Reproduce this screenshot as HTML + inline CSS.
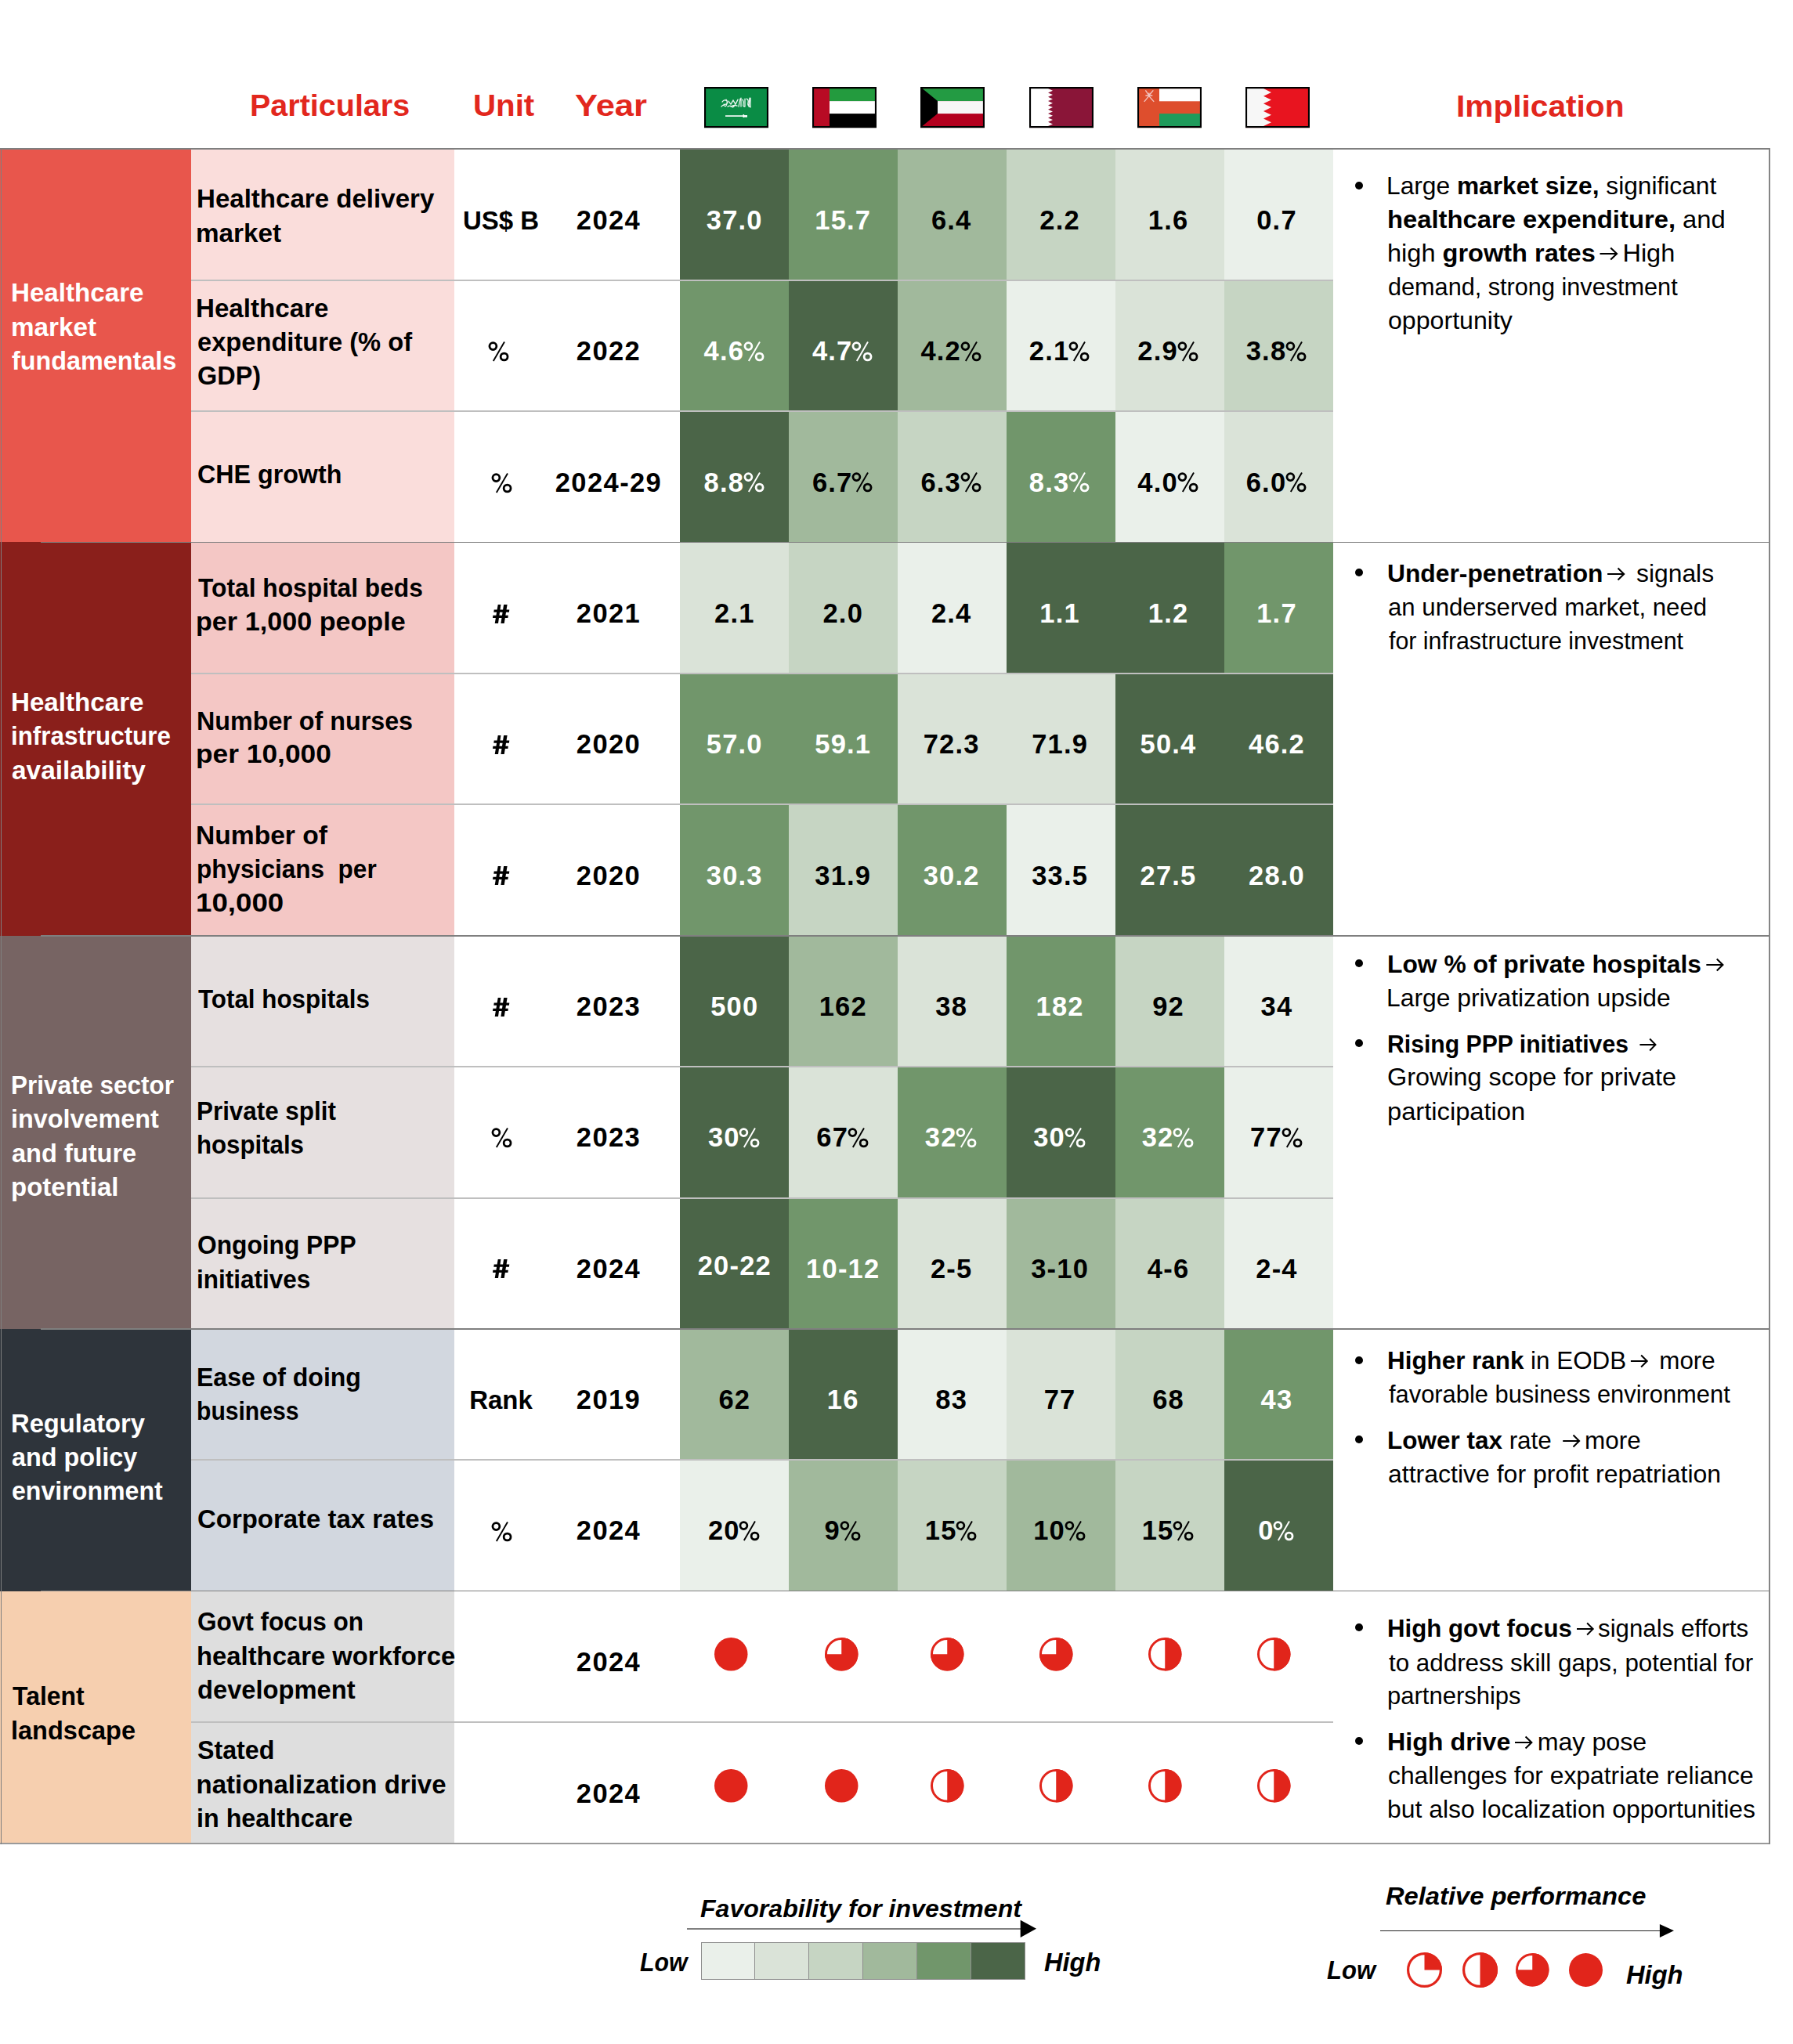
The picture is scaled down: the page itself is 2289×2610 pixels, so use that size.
<!DOCTYPE html>
<html><head><meta charset="utf-8"><title>GCC healthcare</title>
<style>
html,body{margin:0;padding:0;background:#fff;}
body{width:2289px;height:2610px;position:relative;overflow:hidden;font-family:"Liberation Sans", sans-serif;}
.r{position:absolute;}
.t{position:absolute;white-space:pre;}
</style></head><body>
<div class="r" style="left:0.00px;top:190.00px;width:244.00px;height:502.40px;background:#E8564C;"></div>
<div class="r" style="left:244.00px;top:190.00px;width:335.50px;height:502.40px;background:#FADDDB;"></div>
<div class="r" style="left:0.00px;top:692.40px;width:244.00px;height:502.60px;background:#8A1F1B;"></div>
<div class="r" style="left:244.00px;top:692.40px;width:335.50px;height:502.60px;background:#F4C7C5;"></div>
<div class="r" style="left:0.00px;top:1195.00px;width:244.00px;height:502.00px;background:#776463;"></div>
<div class="r" style="left:244.00px;top:1195.00px;width:335.50px;height:502.00px;background:#E6E0E0;"></div>
<div class="r" style="left:0.00px;top:1697.00px;width:244.00px;height:334.60px;background:#2E343B;"></div>
<div class="r" style="left:244.00px;top:1697.00px;width:335.50px;height:334.60px;background:#D2D7DF;"></div>
<div class="r" style="left:0.00px;top:2031.60px;width:244.00px;height:322.40px;background:#F6CFAF;"></div>
<div class="r" style="left:244.00px;top:2031.60px;width:335.50px;height:322.40px;background:#DEDEDE;"></div>
<div class="r" style="left:868.00px;top:190.00px;width:139.00px;height:167.50px;background:#4B6548;"></div>
<div class="r" style="left:1007.00px;top:190.00px;width:139.00px;height:167.50px;background:#71966B;"></div>
<div class="r" style="left:1146.00px;top:190.00px;width:139.00px;height:167.50px;background:#A1B99C;"></div>
<div class="r" style="left:1285.00px;top:190.00px;width:139.00px;height:167.50px;background:#C6D5C3;"></div>
<div class="r" style="left:1424.00px;top:190.00px;width:139.00px;height:167.50px;background:#DAE3D8;"></div>
<div class="r" style="left:1563.00px;top:190.00px;width:139.00px;height:167.50px;background:#EAF0EA;"></div>
<div class="r" style="left:868.00px;top:357.50px;width:139.00px;height:167.50px;background:#71966B;"></div>
<div class="r" style="left:1007.00px;top:357.50px;width:139.00px;height:167.50px;background:#4B6548;"></div>
<div class="r" style="left:1146.00px;top:357.50px;width:139.00px;height:167.50px;background:#A1B99C;"></div>
<div class="r" style="left:1285.00px;top:357.50px;width:139.00px;height:167.50px;background:#EAF0EA;"></div>
<div class="r" style="left:1424.00px;top:357.50px;width:139.00px;height:167.50px;background:#DAE3D8;"></div>
<div class="r" style="left:1563.00px;top:357.50px;width:139.00px;height:167.50px;background:#C6D5C3;"></div>
<div class="r" style="left:868.00px;top:525.00px;width:139.00px;height:167.40px;background:#4B6548;"></div>
<div class="r" style="left:1007.00px;top:525.00px;width:139.00px;height:167.40px;background:#A1B99C;"></div>
<div class="r" style="left:1146.00px;top:525.00px;width:139.00px;height:167.40px;background:#C6D5C3;"></div>
<div class="r" style="left:1285.00px;top:525.00px;width:139.00px;height:167.40px;background:#71966B;"></div>
<div class="r" style="left:1424.00px;top:525.00px;width:139.00px;height:167.40px;background:#EAF0EA;"></div>
<div class="r" style="left:1563.00px;top:525.00px;width:139.00px;height:167.40px;background:#DAE3D8;"></div>
<div class="r" style="left:868.00px;top:692.40px;width:139.00px;height:167.60px;background:#DAE3D8;"></div>
<div class="r" style="left:1007.00px;top:692.40px;width:139.00px;height:167.60px;background:#C6D5C3;"></div>
<div class="r" style="left:1146.00px;top:692.40px;width:139.00px;height:167.60px;background:#EAF0EA;"></div>
<div class="r" style="left:1285.00px;top:692.40px;width:139.00px;height:167.60px;background:#4B6548;"></div>
<div class="r" style="left:1424.00px;top:692.40px;width:139.00px;height:167.60px;background:#4B6548;"></div>
<div class="r" style="left:1563.00px;top:692.40px;width:139.00px;height:167.60px;background:#71966B;"></div>
<div class="r" style="left:868.00px;top:860.00px;width:139.00px;height:167.30px;background:#71966B;"></div>
<div class="r" style="left:1007.00px;top:860.00px;width:139.00px;height:167.30px;background:#71966B;"></div>
<div class="r" style="left:1146.00px;top:860.00px;width:139.00px;height:167.30px;background:#DAE3D8;"></div>
<div class="r" style="left:1285.00px;top:860.00px;width:139.00px;height:167.30px;background:#DAE3D8;"></div>
<div class="r" style="left:1424.00px;top:860.00px;width:139.00px;height:167.30px;background:#4B6548;"></div>
<div class="r" style="left:1563.00px;top:860.00px;width:139.00px;height:167.30px;background:#4B6548;"></div>
<div class="r" style="left:868.00px;top:1027.30px;width:139.00px;height:167.70px;background:#71966B;"></div>
<div class="r" style="left:1007.00px;top:1027.30px;width:139.00px;height:167.70px;background:#C6D5C3;"></div>
<div class="r" style="left:1146.00px;top:1027.30px;width:139.00px;height:167.70px;background:#71966B;"></div>
<div class="r" style="left:1285.00px;top:1027.30px;width:139.00px;height:167.70px;background:#EAF0EA;"></div>
<div class="r" style="left:1424.00px;top:1027.30px;width:139.00px;height:167.70px;background:#4B6548;"></div>
<div class="r" style="left:1563.00px;top:1027.30px;width:139.00px;height:167.70px;background:#4B6548;"></div>
<div class="r" style="left:868.00px;top:1195.00px;width:139.00px;height:167.20px;background:#4B6548;"></div>
<div class="r" style="left:1007.00px;top:1195.00px;width:139.00px;height:167.20px;background:#A1B99C;"></div>
<div class="r" style="left:1146.00px;top:1195.00px;width:139.00px;height:167.20px;background:#DAE3D8;"></div>
<div class="r" style="left:1285.00px;top:1195.00px;width:139.00px;height:167.20px;background:#71966B;"></div>
<div class="r" style="left:1424.00px;top:1195.00px;width:139.00px;height:167.20px;background:#C6D5C3;"></div>
<div class="r" style="left:1563.00px;top:1195.00px;width:139.00px;height:167.20px;background:#EAF0EA;"></div>
<div class="r" style="left:868.00px;top:1362.20px;width:139.00px;height:167.40px;background:#4B6548;"></div>
<div class="r" style="left:1007.00px;top:1362.20px;width:139.00px;height:167.40px;background:#DAE3D8;"></div>
<div class="r" style="left:1146.00px;top:1362.20px;width:139.00px;height:167.40px;background:#71966B;"></div>
<div class="r" style="left:1285.00px;top:1362.20px;width:139.00px;height:167.40px;background:#4B6548;"></div>
<div class="r" style="left:1424.00px;top:1362.20px;width:139.00px;height:167.40px;background:#71966B;"></div>
<div class="r" style="left:1563.00px;top:1362.20px;width:139.00px;height:167.40px;background:#EAF0EA;"></div>
<div class="r" style="left:868.00px;top:1529.60px;width:139.00px;height:167.40px;background:#4B6548;"></div>
<div class="r" style="left:1007.00px;top:1529.60px;width:139.00px;height:167.40px;background:#71966B;"></div>
<div class="r" style="left:1146.00px;top:1529.60px;width:139.00px;height:167.40px;background:#DAE3D8;"></div>
<div class="r" style="left:1285.00px;top:1529.60px;width:139.00px;height:167.40px;background:#A1B99C;"></div>
<div class="r" style="left:1424.00px;top:1529.60px;width:139.00px;height:167.40px;background:#C6D5C3;"></div>
<div class="r" style="left:1563.00px;top:1529.60px;width:139.00px;height:167.40px;background:#EAF0EA;"></div>
<div class="r" style="left:868.00px;top:1697.00px;width:139.00px;height:167.20px;background:#A1B99C;"></div>
<div class="r" style="left:1007.00px;top:1697.00px;width:139.00px;height:167.20px;background:#4B6548;"></div>
<div class="r" style="left:1146.00px;top:1697.00px;width:139.00px;height:167.20px;background:#EAF0EA;"></div>
<div class="r" style="left:1285.00px;top:1697.00px;width:139.00px;height:167.20px;background:#DAE3D8;"></div>
<div class="r" style="left:1424.00px;top:1697.00px;width:139.00px;height:167.20px;background:#C6D5C3;"></div>
<div class="r" style="left:1563.00px;top:1697.00px;width:139.00px;height:167.20px;background:#71966B;"></div>
<div class="r" style="left:868.00px;top:1864.20px;width:139.00px;height:167.40px;background:#EAF0EA;"></div>
<div class="r" style="left:1007.00px;top:1864.20px;width:139.00px;height:167.40px;background:#A1B99C;"></div>
<div class="r" style="left:1146.00px;top:1864.20px;width:139.00px;height:167.40px;background:#C6D5C3;"></div>
<div class="r" style="left:1285.00px;top:1864.20px;width:139.00px;height:167.40px;background:#A1B99C;"></div>
<div class="r" style="left:1424.00px;top:1864.20px;width:139.00px;height:167.40px;background:#C6D5C3;"></div>
<div class="r" style="left:1563.00px;top:1864.20px;width:139.00px;height:167.40px;background:#4B6548;"></div>
<div class="r" style="left:244.00px;top:356.50px;width:1458.00px;height:2.00px;background:#BFBFBF;"></div>
<div class="r" style="left:244.00px;top:524.00px;width:1458.00px;height:2.00px;background:#BFBFBF;"></div>
<div class="r" style="left:244.00px;top:859.00px;width:1458.00px;height:2.00px;background:#BFBFBF;"></div>
<div class="r" style="left:244.00px;top:1026.30px;width:1458.00px;height:2.00px;background:#BFBFBF;"></div>
<div class="r" style="left:244.00px;top:1361.20px;width:1458.00px;height:2.00px;background:#BFBFBF;"></div>
<div class="r" style="left:244.00px;top:1528.60px;width:1458.00px;height:2.00px;background:#BFBFBF;"></div>
<div class="r" style="left:244.00px;top:1863.20px;width:1458.00px;height:2.00px;background:#BFBFBF;"></div>
<div class="r" style="left:244.00px;top:2198.00px;width:1458.00px;height:2.00px;background:#BFBFBF;"></div>
<div class="r" style="left:52.00px;top:691.50px;width:2206.50px;height:1.80px;background:#7F7F7F;"></div>
<div class="r" style="left:52.00px;top:1194.10px;width:2206.50px;height:1.80px;background:#7F7F7F;"></div>
<div class="r" style="left:52.00px;top:1696.10px;width:2206.50px;height:1.80px;background:#7F7F7F;"></div>
<div class="r" style="left:52.00px;top:2030.70px;width:2206.50px;height:1.80px;background:#7F7F7F;"></div>
<div class="r" style="left:0.00px;top:189.00px;width:2259.50px;height:1.50px;background:#7F7F7F;"></div>
<div class="r" style="left:0.00px;top:2353.00px;width:2259.50px;height:2.00px;background:#9A9A9A;"></div>
<div class="r" style="left:0.50px;top:189.00px;width:1.50px;height:2166.00px;background:#7F7F7F;"></div>
<div class="r" style="left:2258.30px;top:189.00px;width:1.30px;height:2166.00px;background:#858585;"></div>
<div class="t" id="t0" style="top:111.45px;font-size:38.5px;line-height:48px;color:#E2271D;font-weight:bold;left:318.62px;transform-origin:0 50%;transform:scaleX(1.0258);"><span>Particulars</span></div>
<div class="t" id="t1" style="top:111.45px;font-size:38.5px;line-height:48px;color:#E2271D;font-weight:bold;left:603.61px;transform-origin:0 50%;transform:scaleX(1.0458);"><span>Unit</span></div>
<div class="t" id="t2" style="top:111.45px;font-size:38.5px;line-height:48px;color:#E2271D;font-weight:bold;left:733.87px;transform-origin:0 50%;transform:scaleX(1.1313);"><span>Year</span></div>
<div class="t" id="t3" style="top:112.45px;font-size:38.5px;line-height:48px;color:#E2271D;font-weight:bold;left:1858.83px;transform-origin:0 50%;transform:scaleX(1.0556);"><span>Implication</span></div>
<div class="t" id="t4" style="top:353.36px;font-size:33px;line-height:41px;color:#fff;font-weight:bold;left:13.99px;transform-origin:0 50%;transform:scaleX(1.0042);"><span>Healthcare</span></div>
<div class="t" id="t5" style="top:396.56px;font-size:33px;line-height:41px;color:#fff;font-weight:bold;left:13.99px;transform-origin:0 50%;transform:scaleX(1.0066);"><span>market</span></div>
<div class="t" id="t6" style="top:439.86px;font-size:33px;line-height:41px;color:#fff;font-weight:bold;left:15.02px;transform-origin:0 50%;transform:scaleX(0.9802);"><span>fundamentals</span></div>
<div class="t" id="t7" style="top:876.16px;font-size:33px;line-height:41px;color:#fff;font-weight:bold;left:13.99px;transform-origin:0 50%;transform:scaleX(1.0042);"><span>Healthcare</span></div>
<div class="t" id="t8" style="top:919.36px;font-size:33px;line-height:41px;color:#fff;font-weight:bold;left:14.10px;transform-origin:0 50%;transform:scaleX(0.9505);"><span>infrastructure</span></div>
<div class="t" id="t9" style="top:962.56px;font-size:33px;line-height:41px;color:#fff;font-weight:bold;left:14.99px;transform-origin:0 50%;transform:scaleX(1.0125);"><span>availability</span></div>
<div class="t" id="t10" style="top:1365.26px;font-size:33px;line-height:41px;color:#fff;font-weight:bold;left:14.10px;transform-origin:0 50%;transform:scaleX(0.9523);"><span>Private sector</span></div>
<div class="t" id="t11" style="top:1408.46px;font-size:33px;line-height:41px;color:#fff;font-weight:bold;left:14.04px;transform-origin:0 50%;transform:scaleX(0.9800);"><span>involvement</span></div>
<div class="t" id="t12" style="top:1451.66px;font-size:33px;line-height:41px;color:#fff;font-weight:bold;left:15.01px;transform-origin:0 50%;transform:scaleX(0.9868);"><span>and future</span></div>
<div class="t" id="t13" style="top:1494.86px;font-size:33px;line-height:41px;color:#fff;font-weight:bold;left:14.00px;transform-origin:0 50%;"><span>potential</span></div>
<div class="t" id="t14" style="top:1796.86px;font-size:33px;line-height:41px;color:#fff;font-weight:bold;left:14.02px;transform-origin:0 50%;transform:scaleX(0.9924);"><span>Regulatory</span></div>
<div class="t" id="t15" style="top:1840.06px;font-size:33px;line-height:41px;color:#fff;font-weight:bold;left:15.02px;transform-origin:0 50%;transform:scaleX(0.9815);"><span>and policy</span></div>
<div class="t" id="t16" style="top:1883.06px;font-size:33px;line-height:41px;color:#fff;font-weight:bold;left:15.03px;transform-origin:0 50%;transform:scaleX(0.9736);"><span>environment</span></div>
<div class="t" id="t17" style="top:2145.06px;font-size:33px;line-height:41px;color:#000;font-weight:bold;left:16.00px;transform-origin:0 50%;transform:scaleX(0.9681);"><span>Talent</span></div>
<div class="t" id="t18" style="top:2189.06px;font-size:33px;line-height:41px;color:#000;font-weight:bold;left:14.03px;transform-origin:0 50%;transform:scaleX(0.9854);"><span>landscape</span></div>
<div class="t" id="t19" style="top:233.46px;font-size:33px;line-height:41px;color:#000;font-weight:bold;left:250.50px;transform-origin:0 50%;transform:scaleX(1.0020);"><span>Healthcare delivery</span></div>
<div class="t" id="t20" style="top:276.56px;font-size:33px;line-height:41px;color:#000;font-weight:bold;left:250.48px;transform-origin:0 50%;transform:scaleX(1.0075);"><span>market</span></div>
<div class="t" id="t21" style="top:372.66px;font-size:33px;line-height:41px;color:#000;font-weight:bold;left:250.49px;transform-origin:0 50%;transform:scaleX(1.0042);"><span>Healthcare</span></div>
<div class="t" id="t22" style="top:415.56px;font-size:33px;line-height:41px;color:#000;font-weight:bold;left:251.51px;transform-origin:0 50%;transform:scaleX(0.9899);"><span>expenditure (% of</span></div>
<div class="t" id="t23" style="top:458.76px;font-size:33px;line-height:41px;color:#000;font-weight:bold;left:251.52px;transform-origin:0 50%;transform:scaleX(0.9825);"><span>GDP)</span></div>
<div class="t" id="t24" style="top:584.76px;font-size:33px;line-height:41px;color:#000;font-weight:bold;left:251.52px;transform-origin:0 50%;transform:scaleX(0.9763);"><span>CHE growth</span></div>
<div class="t" id="t25" style="top:729.96px;font-size:33px;line-height:41px;color:#000;font-weight:bold;left:252.50px;transform-origin:0 50%;transform:scaleX(0.9620);"><span>Total hospital beds</span></div>
<div class="t" id="t26" style="top:772.86px;font-size:33px;line-height:41px;color:#000;font-weight:bold;left:250.43px;transform-origin:0 50%;transform:scaleX(1.0352);"><span>per 1,000 people</span></div>
<div class="t" id="t27" style="top:899.56px;font-size:33px;line-height:41px;color:#000;font-weight:bold;left:250.55px;transform-origin:0 50%;transform:scaleX(0.9774);"><span>Number of nurses</span></div>
<div class="t" id="t28" style="top:942.46px;font-size:33px;line-height:41px;color:#000;font-weight:bold;left:250.36px;transform-origin:0 50%;transform:scaleX(1.0703);"><span>per 10,000</span></div>
<div class="t" id="t29" style="top:1046.06px;font-size:33px;line-height:41px;color:#000;font-weight:bold;left:250.46px;transform-origin:0 50%;transform:scaleX(1.0178);"><span>Number of</span></div>
<div class="t" id="t30" style="top:1089.26px;font-size:33px;line-height:41px;color:#000;font-weight:bold;left:250.59px;transform-origin:0 50%;transform:scaleX(0.9559);"><span>physicians  per</span></div>
<div class="t" id="t31" style="top:1131.66px;font-size:33px;line-height:41px;color:#000;font-weight:bold;left:250.28px;transform-origin:0 50%;transform:scaleX(1.1122);"><span>10,000</span></div>
<div class="t" id="t32" style="top:1254.86px;font-size:33px;line-height:41px;color:#000;font-weight:bold;left:252.50px;transform-origin:0 50%;transform:scaleX(0.9498);"><span>Total hospitals</span></div>
<div class="t" id="t33" style="top:1398.36px;font-size:33px;line-height:41px;color:#000;font-weight:bold;left:250.60px;transform-origin:0 50%;transform:scaleX(0.9508);"><span>Private split</span></div>
<div class="t" id="t34" style="top:1441.26px;font-size:33px;line-height:41px;color:#000;font-weight:bold;left:250.61px;transform-origin:0 50%;transform:scaleX(0.9451);"><span>hospitals</span></div>
<div class="t" id="t35" style="top:1569.26px;font-size:33px;line-height:41px;color:#000;font-weight:bold;left:251.54px;transform-origin:0 50%;transform:scaleX(0.9608);"><span>Ongoing PPP</span></div>
<div class="t" id="t36" style="top:1612.96px;font-size:33px;line-height:41px;color:#000;font-weight:bold;left:250.59px;transform-origin:0 50%;transform:scaleX(0.9544);"><span>initiatives</span></div>
<div class="t" id="t37" style="top:1738.06px;font-size:33px;line-height:41px;color:#000;font-weight:bold;left:250.56px;transform-origin:0 50%;transform:scaleX(0.9703);"><span>Ease of doing</span></div>
<div class="t" id="t38" style="top:1781.06px;font-size:33px;line-height:41px;color:#000;font-weight:bold;left:250.68px;transform-origin:0 50%;transform:scaleX(0.9121);"><span>business</span></div>
<div class="t" id="t39" style="top:1918.66px;font-size:33px;line-height:41px;color:#000;font-weight:bold;left:251.50px;transform-origin:0 50%;transform:scaleX(0.9980);"><span>Corporate tax rates</span></div>
<div class="t" id="t40" style="top:2050.06px;font-size:33px;line-height:41px;color:#000;font-weight:bold;left:251.54px;transform-origin:0 50%;transform:scaleX(0.9557);"><span>Govt focus on</span></div>
<div class="t" id="t41" style="top:2093.56px;font-size:33px;line-height:41px;color:#000;font-weight:bold;left:250.51px;transform-origin:0 50%;transform:scaleX(0.9945);"><span>healthcare workforce</span></div>
<div class="t" id="t42" style="top:2137.06px;font-size:33px;line-height:41px;color:#000;font-weight:bold;left:251.51px;transform-origin:0 50%;transform:scaleX(0.9901);"><span>development</span></div>
<div class="t" id="t43" style="top:2214.06px;font-size:33px;line-height:41px;color:#000;font-weight:bold;left:251.53px;transform-origin:0 50%;transform:scaleX(0.9745);"><span>Stated</span></div>
<div class="t" id="t44" style="top:2257.56px;font-size:33px;line-height:41px;color:#000;font-weight:bold;left:250.50px;transform-origin:0 50%;"><span>nationalization drive</span></div>
<div class="t" id="t45" style="top:2301.06px;font-size:33px;line-height:41px;color:#000;font-weight:bold;left:250.54px;transform-origin:0 50%;transform:scaleX(0.9781);"><span>in healthcare</span></div>
<div class="t" id="t46" style="top:261.36px;font-size:33px;line-height:41px;color:#000;font-weight:bold;left:339.50px;width:600px;text-align:center;transform-origin:50% 50%;"><span>US$ B</span></div>
<div class="t" id="t47" style="top:259.84px;font-size:34.5px;line-height:43px;color:#000;font-weight:bold;letter-spacing:1.4px;left:477.00px;width:600px;text-align:center;transform-origin:50% 50%;"><span>2024</span></div>
<div class="t" id="t48" style="top:428.46px;font-size:33px;line-height:41px;color:#000;font-weight:bold;left:335.60px;width:600px;text-align:center;transform-origin:50% 50%;"><span><svg width="27" height="26" viewBox="0 0 27 26" style="vertical-align:-1.8px;margin-left:1px"><g fill="none" stroke="currentColor"><circle cx="6.4" cy="6.1" r="4.45" stroke-width="2.8"/><circle cx="20.6" cy="19.5" r="4.45" stroke-width="2.8"/><path d="M21,0.6 L6.8,25.1" stroke-width="1.9"/></g></svg></span></div>
<div class="t" id="t49" style="top:426.94px;font-size:34.5px;line-height:43px;color:#000;font-weight:bold;letter-spacing:1.4px;left:477.00px;width:600px;text-align:center;transform-origin:50% 50%;"><span>2022</span></div>
<div class="t" id="t50" style="top:596.06px;font-size:33px;line-height:41px;color:#000;font-weight:bold;left:339.50px;width:600px;text-align:center;transform-origin:50% 50%;"><span><svg width="27" height="26" viewBox="0 0 27 26" style="vertical-align:-1.8px;margin-left:1px"><g fill="none" stroke="currentColor"><circle cx="6.4" cy="6.1" r="4.45" stroke-width="2.8"/><circle cx="20.6" cy="19.5" r="4.45" stroke-width="2.8"/><path d="M21,0.6 L6.8,25.1" stroke-width="1.9"/></g></svg></span></div>
<div class="t" id="t51" style="top:594.54px;font-size:34.5px;line-height:43px;color:#000;font-weight:bold;letter-spacing:1.4px;left:477.00px;width:600px;text-align:center;transform-origin:50% 50%;"><span>2024-29</span></div>
<div class="t" id="t52" style="top:763.56px;font-size:33px;line-height:41px;color:#000;font-weight:bold;left:339.50px;width:600px;text-align:center;transform-origin:50% 50%;"><span><svg width="22" height="24.5" viewBox="0 0 22 24.5" style="vertical-align:-0.5px"><path fill="currentColor" d="M6.7,0 L10.4,0 L7.0,24 L2.7,24 Z M14.1,0 L18.6,0 L14.7,24 L10.4,24 Z M1.7,6.6 L21.3,6.6 L20.9,9.7 L1.3,9.7 Z M0.4,13.8 L19.8,13.8 L19.4,17.1 L0,17.1 Z"/></svg></span></div>
<div class="t" id="t53" style="top:762.04px;font-size:34.5px;line-height:43px;color:#000;font-weight:bold;letter-spacing:1.4px;left:477.00px;width:600px;text-align:center;transform-origin:50% 50%;"><span>2021</span></div>
<div class="t" id="t54" style="top:930.56px;font-size:33px;line-height:41px;color:#000;font-weight:bold;left:339.50px;width:600px;text-align:center;transform-origin:50% 50%;"><span><svg width="22" height="24.5" viewBox="0 0 22 24.5" style="vertical-align:-0.5px"><path fill="currentColor" d="M6.7,0 L10.4,0 L7.0,24 L2.7,24 Z M14.1,0 L18.6,0 L14.7,24 L10.4,24 Z M1.7,6.6 L21.3,6.6 L20.9,9.7 L1.3,9.7 Z M0.4,13.8 L19.8,13.8 L19.4,17.1 L0,17.1 Z"/></svg></span></div>
<div class="t" id="t55" style="top:929.04px;font-size:34.5px;line-height:43px;color:#000;font-weight:bold;letter-spacing:1.4px;left:477.00px;width:600px;text-align:center;transform-origin:50% 50%;"><span>2020</span></div>
<div class="t" id="t56" style="top:1098.06px;font-size:33px;line-height:41px;color:#000;font-weight:bold;left:339.50px;width:600px;text-align:center;transform-origin:50% 50%;"><span><svg width="22" height="24.5" viewBox="0 0 22 24.5" style="vertical-align:-0.5px"><path fill="currentColor" d="M6.7,0 L10.4,0 L7.0,24 L2.7,24 Z M14.1,0 L18.6,0 L14.7,24 L10.4,24 Z M1.7,6.6 L21.3,6.6 L20.9,9.7 L1.3,9.7 Z M0.4,13.8 L19.8,13.8 L19.4,17.1 L0,17.1 Z"/></svg></span></div>
<div class="t" id="t57" style="top:1096.54px;font-size:34.5px;line-height:43px;color:#000;font-weight:bold;letter-spacing:1.4px;left:477.00px;width:600px;text-align:center;transform-origin:50% 50%;"><span>2020</span></div>
<div class="t" id="t58" style="top:1265.66px;font-size:33px;line-height:41px;color:#000;font-weight:bold;left:339.50px;width:600px;text-align:center;transform-origin:50% 50%;"><span><svg width="22" height="24.5" viewBox="0 0 22 24.5" style="vertical-align:-0.5px"><path fill="currentColor" d="M6.7,0 L10.4,0 L7.0,24 L2.7,24 Z M14.1,0 L18.6,0 L14.7,24 L10.4,24 Z M1.7,6.6 L21.3,6.6 L20.9,9.7 L1.3,9.7 Z M0.4,13.8 L19.8,13.8 L19.4,17.1 L0,17.1 Z"/></svg></span></div>
<div class="t" id="t59" style="top:1264.14px;font-size:34.5px;line-height:43px;color:#000;font-weight:bold;letter-spacing:1.4px;left:477.00px;width:600px;text-align:center;transform-origin:50% 50%;"><span>2023</span></div>
<div class="t" id="t60" style="top:1432.56px;font-size:33px;line-height:41px;color:#000;font-weight:bold;left:339.50px;width:600px;text-align:center;transform-origin:50% 50%;"><span><svg width="27" height="26" viewBox="0 0 27 26" style="vertical-align:-1.8px;margin-left:1px"><g fill="none" stroke="currentColor"><circle cx="6.4" cy="6.1" r="4.45" stroke-width="2.8"/><circle cx="20.6" cy="19.5" r="4.45" stroke-width="2.8"/><path d="M21,0.6 L6.8,25.1" stroke-width="1.9"/></g></svg></span></div>
<div class="t" id="t61" style="top:1431.04px;font-size:34.5px;line-height:43px;color:#000;font-weight:bold;letter-spacing:1.4px;left:477.00px;width:600px;text-align:center;transform-origin:50% 50%;"><span>2023</span></div>
<div class="t" id="t62" style="top:1600.06px;font-size:33px;line-height:41px;color:#000;font-weight:bold;left:339.50px;width:600px;text-align:center;transform-origin:50% 50%;"><span><svg width="22" height="24.5" viewBox="0 0 22 24.5" style="vertical-align:-0.5px"><path fill="currentColor" d="M6.7,0 L10.4,0 L7.0,24 L2.7,24 Z M14.1,0 L18.6,0 L14.7,24 L10.4,24 Z M1.7,6.6 L21.3,6.6 L20.9,9.7 L1.3,9.7 Z M0.4,13.8 L19.8,13.8 L19.4,17.1 L0,17.1 Z"/></svg></span></div>
<div class="t" id="t63" style="top:1598.54px;font-size:34.5px;line-height:43px;color:#000;font-weight:bold;letter-spacing:1.4px;left:477.00px;width:600px;text-align:center;transform-origin:50% 50%;"><span>2024</span></div>
<div class="t" id="t64" style="top:1767.46px;font-size:33px;line-height:41px;color:#000;font-weight:bold;left:339.50px;width:600px;text-align:center;transform-origin:50% 50%;"><span>Rank</span></div>
<div class="t" id="t65" style="top:1765.94px;font-size:34.5px;line-height:43px;color:#000;font-weight:bold;letter-spacing:1.4px;left:477.00px;width:600px;text-align:center;transform-origin:50% 50%;"><span>2019</span></div>
<div class="t" id="t66" style="top:1934.76px;font-size:33px;line-height:41px;color:#000;font-weight:bold;left:339.50px;width:600px;text-align:center;transform-origin:50% 50%;"><span><svg width="27" height="26" viewBox="0 0 27 26" style="vertical-align:-1.8px;margin-left:1px"><g fill="none" stroke="currentColor"><circle cx="6.4" cy="6.1" r="4.45" stroke-width="2.8"/><circle cx="20.6" cy="19.5" r="4.45" stroke-width="2.8"/><path d="M21,0.6 L6.8,25.1" stroke-width="1.9"/></g></svg></span></div>
<div class="t" id="t67" style="top:1933.24px;font-size:34.5px;line-height:43px;color:#000;font-weight:bold;letter-spacing:1.4px;left:477.00px;width:600px;text-align:center;transform-origin:50% 50%;"><span>2024</span></div>
<div class="t" id="t68" style="top:2100.54px;font-size:34.5px;line-height:43px;color:#000;font-weight:bold;letter-spacing:1.4px;left:477.00px;width:600px;text-align:center;transform-origin:50% 50%;"><span>2024</span></div>
<div class="t" id="t69" style="top:2269.04px;font-size:34.5px;line-height:43px;color:#000;font-weight:bold;letter-spacing:1.4px;left:477.00px;width:600px;text-align:center;transform-origin:50% 50%;"><span>2024</span></div>
<div class="t" id="t70" style="top:259.84px;font-size:34.5px;line-height:43px;color:#fff;font-weight:bold;letter-spacing:1.2px;left:637.80px;width:600px;text-align:center;transform-origin:50% 50%;"><span>37.0</span></div>
<div class="t" id="t71" style="top:259.84px;font-size:34.5px;line-height:43px;color:#fff;font-weight:bold;letter-spacing:1.2px;left:776.24px;width:600px;text-align:center;transform-origin:50% 50%;"><span>15.7</span></div>
<div class="t" id="t72" style="top:259.84px;font-size:34.5px;line-height:43px;color:#000;font-weight:bold;letter-spacing:1.2px;left:914.68px;width:600px;text-align:center;transform-origin:50% 50%;"><span>6.4</span></div>
<div class="t" id="t73" style="top:259.84px;font-size:34.5px;line-height:43px;color:#000;font-weight:bold;letter-spacing:1.2px;left:1053.12px;width:600px;text-align:center;transform-origin:50% 50%;"><span>2.2</span></div>
<div class="t" id="t74" style="top:259.84px;font-size:34.5px;line-height:43px;color:#000;font-weight:bold;letter-spacing:1.2px;left:1191.56px;width:600px;text-align:center;transform-origin:50% 50%;"><span>1.6</span></div>
<div class="t" id="t75" style="top:259.84px;font-size:34.5px;line-height:43px;color:#000;font-weight:bold;letter-spacing:1.2px;left:1330.00px;width:600px;text-align:center;transform-origin:50% 50%;"><span>0.7</span></div>
<div class="t" id="t76" style="top:426.94px;font-size:34.5px;line-height:43px;color:#fff;font-weight:bold;letter-spacing:1.2px;left:637.20px;width:600px;text-align:center;transform-origin:50% 50%;"><span>4.6<svg width="27" height="26" viewBox="0 0 27 26" style="vertical-align:-1.8px;margin-left:-1.2px"><g fill="none" stroke="currentColor"><circle cx="6.4" cy="6.1" r="4.45" stroke-width="2.8"/><circle cx="20.6" cy="19.5" r="4.45" stroke-width="2.8"/><path d="M21,0.6 L6.8,25.1" stroke-width="1.9"/></g></svg></span></div>
<div class="t" id="t77" style="top:426.94px;font-size:34.5px;line-height:43px;color:#fff;font-weight:bold;letter-spacing:1.2px;left:775.64px;width:600px;text-align:center;transform-origin:50% 50%;"><span>4.7<svg width="27" height="26" viewBox="0 0 27 26" style="vertical-align:-1.8px;margin-left:-1.2px"><g fill="none" stroke="currentColor"><circle cx="6.4" cy="6.1" r="4.45" stroke-width="2.8"/><circle cx="20.6" cy="19.5" r="4.45" stroke-width="2.8"/><path d="M21,0.6 L6.8,25.1" stroke-width="1.9"/></g></svg></span></div>
<div class="t" id="t78" style="top:426.94px;font-size:34.5px;line-height:43px;color:#000;font-weight:bold;letter-spacing:1.2px;left:914.08px;width:600px;text-align:center;transform-origin:50% 50%;"><span>4.2<svg width="27" height="26" viewBox="0 0 27 26" style="vertical-align:-1.8px;margin-left:-1.2px"><g fill="none" stroke="currentColor"><circle cx="6.4" cy="6.1" r="4.45" stroke-width="2.8"/><circle cx="20.6" cy="19.5" r="4.45" stroke-width="2.8"/><path d="M21,0.6 L6.8,25.1" stroke-width="1.9"/></g></svg></span></div>
<div class="t" id="t79" style="top:426.94px;font-size:34.5px;line-height:43px;color:#000;font-weight:bold;letter-spacing:1.2px;left:1052.52px;width:600px;text-align:center;transform-origin:50% 50%;"><span>2.1<svg width="27" height="26" viewBox="0 0 27 26" style="vertical-align:-1.8px;margin-left:-1.2px"><g fill="none" stroke="currentColor"><circle cx="6.4" cy="6.1" r="4.45" stroke-width="2.8"/><circle cx="20.6" cy="19.5" r="4.45" stroke-width="2.8"/><path d="M21,0.6 L6.8,25.1" stroke-width="1.9"/></g></svg></span></div>
<div class="t" id="t80" style="top:426.94px;font-size:34.5px;line-height:43px;color:#000;font-weight:bold;letter-spacing:1.2px;left:1190.96px;width:600px;text-align:center;transform-origin:50% 50%;"><span>2.9<svg width="27" height="26" viewBox="0 0 27 26" style="vertical-align:-1.8px;margin-left:-1.2px"><g fill="none" stroke="currentColor"><circle cx="6.4" cy="6.1" r="4.45" stroke-width="2.8"/><circle cx="20.6" cy="19.5" r="4.45" stroke-width="2.8"/><path d="M21,0.6 L6.8,25.1" stroke-width="1.9"/></g></svg></span></div>
<div class="t" id="t81" style="top:426.94px;font-size:34.5px;line-height:43px;color:#000;font-weight:bold;letter-spacing:1.2px;left:1329.40px;width:600px;text-align:center;transform-origin:50% 50%;"><span>3.8<svg width="27" height="26" viewBox="0 0 27 26" style="vertical-align:-1.8px;margin-left:-1.2px"><g fill="none" stroke="currentColor"><circle cx="6.4" cy="6.1" r="4.45" stroke-width="2.8"/><circle cx="20.6" cy="19.5" r="4.45" stroke-width="2.8"/><path d="M21,0.6 L6.8,25.1" stroke-width="1.9"/></g></svg></span></div>
<div class="t" id="t82" style="top:594.54px;font-size:34.5px;line-height:43px;color:#fff;font-weight:bold;letter-spacing:1.2px;left:637.20px;width:600px;text-align:center;transform-origin:50% 50%;"><span>8.8<svg width="27" height="26" viewBox="0 0 27 26" style="vertical-align:-1.8px;margin-left:-1.2px"><g fill="none" stroke="currentColor"><circle cx="6.4" cy="6.1" r="4.45" stroke-width="2.8"/><circle cx="20.6" cy="19.5" r="4.45" stroke-width="2.8"/><path d="M21,0.6 L6.8,25.1" stroke-width="1.9"/></g></svg></span></div>
<div class="t" id="t83" style="top:594.54px;font-size:34.5px;line-height:43px;color:#000;font-weight:bold;letter-spacing:1.2px;left:775.64px;width:600px;text-align:center;transform-origin:50% 50%;"><span>6.7<svg width="27" height="26" viewBox="0 0 27 26" style="vertical-align:-1.8px;margin-left:-1.2px"><g fill="none" stroke="currentColor"><circle cx="6.4" cy="6.1" r="4.45" stroke-width="2.8"/><circle cx="20.6" cy="19.5" r="4.45" stroke-width="2.8"/><path d="M21,0.6 L6.8,25.1" stroke-width="1.9"/></g></svg></span></div>
<div class="t" id="t84" style="top:594.54px;font-size:34.5px;line-height:43px;color:#000;font-weight:bold;letter-spacing:1.2px;left:914.08px;width:600px;text-align:center;transform-origin:50% 50%;"><span>6.3<svg width="27" height="26" viewBox="0 0 27 26" style="vertical-align:-1.8px;margin-left:-1.2px"><g fill="none" stroke="currentColor"><circle cx="6.4" cy="6.1" r="4.45" stroke-width="2.8"/><circle cx="20.6" cy="19.5" r="4.45" stroke-width="2.8"/><path d="M21,0.6 L6.8,25.1" stroke-width="1.9"/></g></svg></span></div>
<div class="t" id="t85" style="top:594.54px;font-size:34.5px;line-height:43px;color:#fff;font-weight:bold;letter-spacing:1.2px;left:1052.52px;width:600px;text-align:center;transform-origin:50% 50%;"><span>8.3<svg width="27" height="26" viewBox="0 0 27 26" style="vertical-align:-1.8px;margin-left:-1.2px"><g fill="none" stroke="currentColor"><circle cx="6.4" cy="6.1" r="4.45" stroke-width="2.8"/><circle cx="20.6" cy="19.5" r="4.45" stroke-width="2.8"/><path d="M21,0.6 L6.8,25.1" stroke-width="1.9"/></g></svg></span></div>
<div class="t" id="t86" style="top:594.54px;font-size:34.5px;line-height:43px;color:#000;font-weight:bold;letter-spacing:1.2px;left:1190.96px;width:600px;text-align:center;transform-origin:50% 50%;"><span>4.0<svg width="27" height="26" viewBox="0 0 27 26" style="vertical-align:-1.8px;margin-left:-1.2px"><g fill="none" stroke="currentColor"><circle cx="6.4" cy="6.1" r="4.45" stroke-width="2.8"/><circle cx="20.6" cy="19.5" r="4.45" stroke-width="2.8"/><path d="M21,0.6 L6.8,25.1" stroke-width="1.9"/></g></svg></span></div>
<div class="t" id="t87" style="top:594.54px;font-size:34.5px;line-height:43px;color:#000;font-weight:bold;letter-spacing:1.2px;left:1329.40px;width:600px;text-align:center;transform-origin:50% 50%;"><span>6.0<svg width="27" height="26" viewBox="0 0 27 26" style="vertical-align:-1.8px;margin-left:-1.2px"><g fill="none" stroke="currentColor"><circle cx="6.4" cy="6.1" r="4.45" stroke-width="2.8"/><circle cx="20.6" cy="19.5" r="4.45" stroke-width="2.8"/><path d="M21,0.6 L6.8,25.1" stroke-width="1.9"/></g></svg></span></div>
<div class="t" id="t88" style="top:762.04px;font-size:34.5px;line-height:43px;color:#000;font-weight:bold;letter-spacing:1.2px;left:637.80px;width:600px;text-align:center;transform-origin:50% 50%;"><span>2.1</span></div>
<div class="t" id="t89" style="top:762.04px;font-size:34.5px;line-height:43px;color:#000;font-weight:bold;letter-spacing:1.2px;left:776.24px;width:600px;text-align:center;transform-origin:50% 50%;"><span>2.0</span></div>
<div class="t" id="t90" style="top:762.04px;font-size:34.5px;line-height:43px;color:#000;font-weight:bold;letter-spacing:1.2px;left:914.68px;width:600px;text-align:center;transform-origin:50% 50%;"><span>2.4</span></div>
<div class="t" id="t91" style="top:762.04px;font-size:34.5px;line-height:43px;color:#fff;font-weight:bold;letter-spacing:1.2px;left:1053.12px;width:600px;text-align:center;transform-origin:50% 50%;"><span>1.1</span></div>
<div class="t" id="t92" style="top:762.04px;font-size:34.5px;line-height:43px;color:#fff;font-weight:bold;letter-spacing:1.2px;left:1191.56px;width:600px;text-align:center;transform-origin:50% 50%;"><span>1.2</span></div>
<div class="t" id="t93" style="top:762.04px;font-size:34.5px;line-height:43px;color:#fff;font-weight:bold;letter-spacing:1.2px;left:1330.00px;width:600px;text-align:center;transform-origin:50% 50%;"><span>1.7</span></div>
<div class="t" id="t94" style="top:929.04px;font-size:34.5px;line-height:43px;color:#fff;font-weight:bold;letter-spacing:1.2px;left:637.80px;width:600px;text-align:center;transform-origin:50% 50%;"><span>57.0</span></div>
<div class="t" id="t95" style="top:929.04px;font-size:34.5px;line-height:43px;color:#fff;font-weight:bold;letter-spacing:1.2px;left:776.24px;width:600px;text-align:center;transform-origin:50% 50%;"><span>59.1</span></div>
<div class="t" id="t96" style="top:929.04px;font-size:34.5px;line-height:43px;color:#000;font-weight:bold;letter-spacing:1.2px;left:914.68px;width:600px;text-align:center;transform-origin:50% 50%;"><span>72.3</span></div>
<div class="t" id="t97" style="top:929.04px;font-size:34.5px;line-height:43px;color:#000;font-weight:bold;letter-spacing:1.2px;left:1053.12px;width:600px;text-align:center;transform-origin:50% 50%;"><span>71.9</span></div>
<div class="t" id="t98" style="top:929.04px;font-size:34.5px;line-height:43px;color:#fff;font-weight:bold;letter-spacing:1.2px;left:1191.56px;width:600px;text-align:center;transform-origin:50% 50%;"><span>50.4</span></div>
<div class="t" id="t99" style="top:929.04px;font-size:34.5px;line-height:43px;color:#fff;font-weight:bold;letter-spacing:1.2px;left:1330.00px;width:600px;text-align:center;transform-origin:50% 50%;"><span>46.2</span></div>
<div class="t" id="t100" style="top:1096.54px;font-size:34.5px;line-height:43px;color:#fff;font-weight:bold;letter-spacing:1.2px;left:637.80px;width:600px;text-align:center;transform-origin:50% 50%;"><span>30.3</span></div>
<div class="t" id="t101" style="top:1096.54px;font-size:34.5px;line-height:43px;color:#000;font-weight:bold;letter-spacing:1.2px;left:776.24px;width:600px;text-align:center;transform-origin:50% 50%;"><span>31.9</span></div>
<div class="t" id="t102" style="top:1096.54px;font-size:34.5px;line-height:43px;color:#fff;font-weight:bold;letter-spacing:1.2px;left:914.68px;width:600px;text-align:center;transform-origin:50% 50%;"><span>30.2</span></div>
<div class="t" id="t103" style="top:1096.54px;font-size:34.5px;line-height:43px;color:#000;font-weight:bold;letter-spacing:1.2px;left:1053.12px;width:600px;text-align:center;transform-origin:50% 50%;"><span>33.5</span></div>
<div class="t" id="t104" style="top:1096.54px;font-size:34.5px;line-height:43px;color:#fff;font-weight:bold;letter-spacing:1.2px;left:1191.56px;width:600px;text-align:center;transform-origin:50% 50%;"><span>27.5</span></div>
<div class="t" id="t105" style="top:1096.54px;font-size:34.5px;line-height:43px;color:#fff;font-weight:bold;letter-spacing:1.2px;left:1330.00px;width:600px;text-align:center;transform-origin:50% 50%;"><span>28.0</span></div>
<div class="t" id="t106" style="top:1264.14px;font-size:34.5px;line-height:43px;color:#fff;font-weight:bold;letter-spacing:1.2px;left:637.80px;width:600px;text-align:center;transform-origin:50% 50%;"><span>500</span></div>
<div class="t" id="t107" style="top:1264.14px;font-size:34.5px;line-height:43px;color:#000;font-weight:bold;letter-spacing:1.2px;left:776.24px;width:600px;text-align:center;transform-origin:50% 50%;"><span>162</span></div>
<div class="t" id="t108" style="top:1264.14px;font-size:34.5px;line-height:43px;color:#000;font-weight:bold;letter-spacing:1.2px;left:914.68px;width:600px;text-align:center;transform-origin:50% 50%;"><span>38</span></div>
<div class="t" id="t109" style="top:1264.14px;font-size:34.5px;line-height:43px;color:#fff;font-weight:bold;letter-spacing:1.2px;left:1053.12px;width:600px;text-align:center;transform-origin:50% 50%;"><span>182</span></div>
<div class="t" id="t110" style="top:1264.14px;font-size:34.5px;line-height:43px;color:#000;font-weight:bold;letter-spacing:1.2px;left:1191.56px;width:600px;text-align:center;transform-origin:50% 50%;"><span>92</span></div>
<div class="t" id="t111" style="top:1264.14px;font-size:34.5px;line-height:43px;color:#000;font-weight:bold;letter-spacing:1.2px;left:1330.00px;width:600px;text-align:center;transform-origin:50% 50%;"><span>34</span></div>
<div class="t" id="t112" style="top:1431.04px;font-size:34.5px;line-height:43px;color:#fff;font-weight:bold;letter-spacing:1.2px;left:637.20px;width:600px;text-align:center;transform-origin:50% 50%;"><span>30<svg width="27" height="26" viewBox="0 0 27 26" style="vertical-align:-1.8px;margin-left:-1.2px"><g fill="none" stroke="currentColor"><circle cx="6.4" cy="6.1" r="4.45" stroke-width="2.8"/><circle cx="20.6" cy="19.5" r="4.45" stroke-width="2.8"/><path d="M21,0.6 L6.8,25.1" stroke-width="1.9"/></g></svg></span></div>
<div class="t" id="t113" style="top:1431.04px;font-size:34.5px;line-height:43px;color:#000;font-weight:bold;letter-spacing:1.2px;left:775.64px;width:600px;text-align:center;transform-origin:50% 50%;"><span>67<svg width="27" height="26" viewBox="0 0 27 26" style="vertical-align:-1.8px;margin-left:-1.2px"><g fill="none" stroke="currentColor"><circle cx="6.4" cy="6.1" r="4.45" stroke-width="2.8"/><circle cx="20.6" cy="19.5" r="4.45" stroke-width="2.8"/><path d="M21,0.6 L6.8,25.1" stroke-width="1.9"/></g></svg></span></div>
<div class="t" id="t114" style="top:1431.04px;font-size:34.5px;line-height:43px;color:#fff;font-weight:bold;letter-spacing:1.2px;left:914.08px;width:600px;text-align:center;transform-origin:50% 50%;"><span>32<svg width="27" height="26" viewBox="0 0 27 26" style="vertical-align:-1.8px;margin-left:-1.2px"><g fill="none" stroke="currentColor"><circle cx="6.4" cy="6.1" r="4.45" stroke-width="2.8"/><circle cx="20.6" cy="19.5" r="4.45" stroke-width="2.8"/><path d="M21,0.6 L6.8,25.1" stroke-width="1.9"/></g></svg></span></div>
<div class="t" id="t115" style="top:1431.04px;font-size:34.5px;line-height:43px;color:#fff;font-weight:bold;letter-spacing:1.2px;left:1052.52px;width:600px;text-align:center;transform-origin:50% 50%;"><span>30<svg width="27" height="26" viewBox="0 0 27 26" style="vertical-align:-1.8px;margin-left:-1.2px"><g fill="none" stroke="currentColor"><circle cx="6.4" cy="6.1" r="4.45" stroke-width="2.8"/><circle cx="20.6" cy="19.5" r="4.45" stroke-width="2.8"/><path d="M21,0.6 L6.8,25.1" stroke-width="1.9"/></g></svg></span></div>
<div class="t" id="t116" style="top:1431.04px;font-size:34.5px;line-height:43px;color:#fff;font-weight:bold;letter-spacing:1.2px;left:1190.96px;width:600px;text-align:center;transform-origin:50% 50%;"><span>32<svg width="27" height="26" viewBox="0 0 27 26" style="vertical-align:-1.8px;margin-left:-1.2px"><g fill="none" stroke="currentColor"><circle cx="6.4" cy="6.1" r="4.45" stroke-width="2.8"/><circle cx="20.6" cy="19.5" r="4.45" stroke-width="2.8"/><path d="M21,0.6 L6.8,25.1" stroke-width="1.9"/></g></svg></span></div>
<div class="t" id="t117" style="top:1431.04px;font-size:34.5px;line-height:43px;color:#000;font-weight:bold;letter-spacing:1.2px;left:1329.40px;width:600px;text-align:center;transform-origin:50% 50%;"><span>77<svg width="27" height="26" viewBox="0 0 27 26" style="vertical-align:-1.8px;margin-left:-1.2px"><g fill="none" stroke="currentColor"><circle cx="6.4" cy="6.1" r="4.45" stroke-width="2.8"/><circle cx="20.6" cy="19.5" r="4.45" stroke-width="2.8"/><path d="M21,0.6 L6.8,25.1" stroke-width="1.9"/></g></svg></span></div>
<div class="t" id="t118" style="top:1594.54px;font-size:34.5px;line-height:43px;color:#fff;font-weight:bold;letter-spacing:1.2px;left:637.80px;width:600px;text-align:center;transform-origin:50% 50%;"><span>20-22</span></div>
<div class="t" id="t119" style="top:1598.54px;font-size:34.5px;line-height:43px;color:#fff;font-weight:bold;letter-spacing:1.2px;left:776.24px;width:600px;text-align:center;transform-origin:50% 50%;"><span>10-12</span></div>
<div class="t" id="t120" style="top:1598.54px;font-size:34.5px;line-height:43px;color:#000;font-weight:bold;letter-spacing:1.2px;left:914.68px;width:600px;text-align:center;transform-origin:50% 50%;"><span>2-5</span></div>
<div class="t" id="t121" style="top:1598.54px;font-size:34.5px;line-height:43px;color:#000;font-weight:bold;letter-spacing:1.2px;left:1053.12px;width:600px;text-align:center;transform-origin:50% 50%;"><span>3-10</span></div>
<div class="t" id="t122" style="top:1598.54px;font-size:34.5px;line-height:43px;color:#000;font-weight:bold;letter-spacing:1.2px;left:1191.56px;width:600px;text-align:center;transform-origin:50% 50%;"><span>4-6</span></div>
<div class="t" id="t123" style="top:1598.54px;font-size:34.5px;line-height:43px;color:#000;font-weight:bold;letter-spacing:1.2px;left:1330.00px;width:600px;text-align:center;transform-origin:50% 50%;"><span>2-4</span></div>
<div class="t" id="t124" style="top:1765.94px;font-size:34.5px;line-height:43px;color:#000;font-weight:bold;letter-spacing:1.2px;left:637.80px;width:600px;text-align:center;transform-origin:50% 50%;"><span>62</span></div>
<div class="t" id="t125" style="top:1765.94px;font-size:34.5px;line-height:43px;color:#fff;font-weight:bold;letter-spacing:1.2px;left:776.24px;width:600px;text-align:center;transform-origin:50% 50%;"><span>16</span></div>
<div class="t" id="t126" style="top:1765.94px;font-size:34.5px;line-height:43px;color:#000;font-weight:bold;letter-spacing:1.2px;left:914.68px;width:600px;text-align:center;transform-origin:50% 50%;"><span>83</span></div>
<div class="t" id="t127" style="top:1765.94px;font-size:34.5px;line-height:43px;color:#000;font-weight:bold;letter-spacing:1.2px;left:1053.12px;width:600px;text-align:center;transform-origin:50% 50%;"><span>77</span></div>
<div class="t" id="t128" style="top:1765.94px;font-size:34.5px;line-height:43px;color:#000;font-weight:bold;letter-spacing:1.2px;left:1191.56px;width:600px;text-align:center;transform-origin:50% 50%;"><span>68</span></div>
<div class="t" id="t129" style="top:1765.94px;font-size:34.5px;line-height:43px;color:#fff;font-weight:bold;letter-spacing:1.2px;left:1330.00px;width:600px;text-align:center;transform-origin:50% 50%;"><span>43</span></div>
<div class="t" id="t130" style="top:1933.24px;font-size:34.5px;line-height:43px;color:#000;font-weight:bold;letter-spacing:1.2px;left:637.20px;width:600px;text-align:center;transform-origin:50% 50%;"><span>20<svg width="27" height="26" viewBox="0 0 27 26" style="vertical-align:-1.8px;margin-left:-1.2px"><g fill="none" stroke="currentColor"><circle cx="6.4" cy="6.1" r="4.45" stroke-width="2.8"/><circle cx="20.6" cy="19.5" r="4.45" stroke-width="2.8"/><path d="M21,0.6 L6.8,25.1" stroke-width="1.9"/></g></svg></span></div>
<div class="t" id="t131" style="top:1933.24px;font-size:34.5px;line-height:43px;color:#000;font-weight:bold;letter-spacing:1.2px;left:775.64px;width:600px;text-align:center;transform-origin:50% 50%;"><span>9<svg width="27" height="26" viewBox="0 0 27 26" style="vertical-align:-1.8px;margin-left:-1.2px"><g fill="none" stroke="currentColor"><circle cx="6.4" cy="6.1" r="4.45" stroke-width="2.8"/><circle cx="20.6" cy="19.5" r="4.45" stroke-width="2.8"/><path d="M21,0.6 L6.8,25.1" stroke-width="1.9"/></g></svg></span></div>
<div class="t" id="t132" style="top:1933.24px;font-size:34.5px;line-height:43px;color:#000;font-weight:bold;letter-spacing:1.2px;left:914.08px;width:600px;text-align:center;transform-origin:50% 50%;"><span>15<svg width="27" height="26" viewBox="0 0 27 26" style="vertical-align:-1.8px;margin-left:-1.2px"><g fill="none" stroke="currentColor"><circle cx="6.4" cy="6.1" r="4.45" stroke-width="2.8"/><circle cx="20.6" cy="19.5" r="4.45" stroke-width="2.8"/><path d="M21,0.6 L6.8,25.1" stroke-width="1.9"/></g></svg></span></div>
<div class="t" id="t133" style="top:1933.24px;font-size:34.5px;line-height:43px;color:#000;font-weight:bold;letter-spacing:1.2px;left:1052.52px;width:600px;text-align:center;transform-origin:50% 50%;"><span>10<svg width="27" height="26" viewBox="0 0 27 26" style="vertical-align:-1.8px;margin-left:-1.2px"><g fill="none" stroke="currentColor"><circle cx="6.4" cy="6.1" r="4.45" stroke-width="2.8"/><circle cx="20.6" cy="19.5" r="4.45" stroke-width="2.8"/><path d="M21,0.6 L6.8,25.1" stroke-width="1.9"/></g></svg></span></div>
<div class="t" id="t134" style="top:1933.24px;font-size:34.5px;line-height:43px;color:#000;font-weight:bold;letter-spacing:1.2px;left:1190.96px;width:600px;text-align:center;transform-origin:50% 50%;"><span>15<svg width="27" height="26" viewBox="0 0 27 26" style="vertical-align:-1.8px;margin-left:-1.2px"><g fill="none" stroke="currentColor"><circle cx="6.4" cy="6.1" r="4.45" stroke-width="2.8"/><circle cx="20.6" cy="19.5" r="4.45" stroke-width="2.8"/><path d="M21,0.6 L6.8,25.1" stroke-width="1.9"/></g></svg></span></div>
<div class="t" id="t135" style="top:1933.24px;font-size:34.5px;line-height:43px;color:#fff;font-weight:bold;letter-spacing:1.2px;left:1329.40px;width:600px;text-align:center;transform-origin:50% 50%;"><span>0<svg width="27" height="26" viewBox="0 0 27 26" style="vertical-align:-1.8px;margin-left:-1.2px"><g fill="none" stroke="currentColor"><circle cx="6.4" cy="6.1" r="4.45" stroke-width="2.8"/><circle cx="20.6" cy="19.5" r="4.45" stroke-width="2.8"/><path d="M21,0.6 L6.8,25.1" stroke-width="1.9"/></g></svg></span></div>
<div class="t" id="t136" style="top:217.41px;font-size:32px;line-height:40px;color:#000;font-weight:normal;left:1770.03px;transform-origin:0 50%;transform:scaleX(0.9910);"><span>Large <span style="font-weight:bold">market size,</span> significant</span></div>
<div class="r" style="left:1730.0px;top:231.5px;width:10px;height:10px;border-radius:50%;background:#000"></div>
<div class="t" id="t137" style="top:260.11px;font-size:32px;line-height:40px;color:#000;font-weight:normal;left:1770.95px;transform-origin:0 50%;transform:scaleX(1.0244);"><span><span style="font-weight:bold">healthcare expenditure,</span> and</span></div>
<div class="t" id="t138" style="top:303.21px;font-size:32px;line-height:40px;color:#000;font-weight:normal;left:1770.97px;transform-origin:0 50%;transform:scaleX(1.0168);"><span>high <span style="font-weight:bold">growth rates</span><svg width="34" height="18" viewBox="0 0 34 18" style="vertical-align:1px"><path d="M6,9 L27,9 M19.5,1.6 L27.2,9 L19.5,16.4" stroke="#000" stroke-width="2.1" fill="none"/></svg>High</span></div>
<div class="t" id="t139" style="top:345.91px;font-size:32px;line-height:40px;color:#000;font-weight:normal;left:1772.04px;transform-origin:0 50%;transform:scaleX(0.9577);"><span>demand, strong investment</span></div>
<div class="t" id="t140" style="top:389.41px;font-size:32px;line-height:40px;color:#000;font-weight:normal;left:1772.00px;transform-origin:0 50%;transform:scaleX(1.0038);"><span>opportunity</span></div>
<div class="t" id="t141" style="top:711.71px;font-size:32px;line-height:40px;color:#000;font-weight:normal;left:1771.01px;transform-origin:0 50%;transform:scaleX(0.9933);"><span><span style="font-weight:bold">Under-penetration</span><svg width="34" height="18" viewBox="0 0 34 18" style="vertical-align:1px"><path d="M6,9 L27,9 M19.5,1.6 L27.2,9 L19.5,16.4" stroke="#000" stroke-width="2.1" fill="none"/></svg> signals</span></div>
<div class="r" style="left:1730.0px;top:725.8px;width:10px;height:10px;border-radius:50%;background:#000"></div>
<div class="t" id="t142" style="top:754.81px;font-size:32px;line-height:40px;color:#000;font-weight:normal;left:1772.03px;transform-origin:0 50%;transform:scaleX(0.9737);"><span>an underserved market, need</span></div>
<div class="t" id="t143" style="top:797.61px;font-size:32px;line-height:40px;color:#000;font-weight:normal;left:1773.00px;transform-origin:0 50%;transform:scaleX(0.9481);"><span>for infrastructure investment</span></div>
<div class="t" id="t144" style="top:1210.71px;font-size:32px;line-height:40px;color:#000;font-weight:normal;left:1771.01px;transform-origin:0 50%;transform:scaleX(0.9935);"><span><span style="font-weight:bold">Low % of private hospitals</span><svg width="34" height="18" viewBox="0 0 34 18" style="vertical-align:1px"><path d="M6,9 L27,9 M19.5,1.6 L27.2,9 L19.5,16.4" stroke="#000" stroke-width="2.1" fill="none"/></svg></span></div>
<div class="r" style="left:1730.0px;top:1224.8px;width:10px;height:10px;border-radius:50%;background:#000"></div>
<div class="t" id="t145" style="top:1254.11px;font-size:32px;line-height:40px;color:#000;font-weight:normal;left:1770.02px;transform-origin:0 50%;transform:scaleX(0.9944);"><span>Large privatization upside</span></div>
<div class="t" id="t146" style="top:1312.61px;font-size:32px;line-height:40px;color:#000;font-weight:normal;left:1771.11px;transform-origin:0 50%;transform:scaleX(0.9428);"><span><span style="font-weight:bold">Rising PPP initiatives</span> <svg width="34" height="18" viewBox="0 0 34 18" style="vertical-align:1px"><path d="M6,9 L27,9 M19.5,1.6 L27.2,9 L19.5,16.4" stroke="#000" stroke-width="2.1" fill="none"/></svg></span></div>
<div class="r" style="left:1730.0px;top:1326.7px;width:10px;height:10px;border-radius:50%;background:#000"></div>
<div class="t" id="t147" style="top:1355.41px;font-size:32px;line-height:40px;color:#000;font-weight:normal;left:1770.98px;transform-origin:0 50%;transform:scaleX(1.0122);"><span>Growing scope for private</span></div>
<div class="t" id="t148" style="top:1398.51px;font-size:32px;line-height:40px;color:#000;font-weight:normal;left:1770.96px;transform-origin:0 50%;transform:scaleX(1.0213);"><span>participation</span></div>
<div class="t" id="t149" style="top:1717.41px;font-size:32px;line-height:40px;color:#000;font-weight:normal;left:1771.04px;transform-origin:0 50%;transform:scaleX(0.9807);"><span><span style="font-weight:bold">Higher rank</span> in EODB<svg width="34" height="18" viewBox="0 0 34 18" style="vertical-align:1px"><path d="M6,9 L27,9 M19.5,1.6 L27.2,9 L19.5,16.4" stroke="#000" stroke-width="2.1" fill="none"/></svg> more</span></div>
<div class="r" style="left:1730.0px;top:1731.5px;width:10px;height:10px;border-radius:50%;background:#000"></div>
<div class="t" id="t150" style="top:1759.91px;font-size:32px;line-height:40px;color:#000;font-weight:normal;left:1773.00px;transform-origin:0 50%;transform:scaleX(0.9644);"><span>favorable business environment</span></div>
<div class="t" id="t151" style="top:1819.31px;font-size:32px;line-height:40px;color:#000;font-weight:normal;left:1771.03px;transform-origin:0 50%;transform:scaleX(0.9834);"><span><span style="font-weight:bold">Lower tax</span> rate <svg width="34" height="18" viewBox="0 0 34 18" style="vertical-align:1px"><path d="M6,9 L27,9 M19.5,1.6 L27.2,9 L19.5,16.4" stroke="#000" stroke-width="2.1" fill="none"/></svg>more</span></div>
<div class="r" style="left:1730.0px;top:1833.4px;width:10px;height:10px;border-radius:50%;background:#000"></div>
<div class="t" id="t152" style="top:1861.71px;font-size:32px;line-height:40px;color:#000;font-weight:normal;left:1772.00px;transform-origin:0 50%;"><span>attractive for profit repatriation</span></div>
<div class="t" id="t153" style="top:2059.11px;font-size:32px;line-height:40px;color:#000;font-weight:normal;left:1771.05px;transform-origin:0 50%;transform:scaleX(0.9757);"><span><span style="font-weight:bold">High govt focus</span><svg width="34" height="18" viewBox="0 0 34 18" style="vertical-align:1px"><path d="M6,9 L27,9 M19.5,1.6 L27.2,9 L19.5,16.4" stroke="#000" stroke-width="2.1" fill="none"/></svg>signals efforts</span></div>
<div class="r" style="left:1730.0px;top:2073.2px;width:10px;height:10px;border-radius:50%;background:#000"></div>
<div class="t" id="t154" style="top:2102.51px;font-size:32px;line-height:40px;color:#000;font-weight:normal;left:1773.00px;transform-origin:0 50%;transform:scaleX(0.9795);"><span>to address skill gaps, potential for</span></div>
<div class="t" id="t155" style="top:2145.31px;font-size:32px;line-height:40px;color:#000;font-weight:normal;left:1771.06px;transform-origin:0 50%;transform:scaleX(0.9688);"><span>partnerships</span></div>
<div class="t" id="t156" style="top:2203.71px;font-size:32px;line-height:40px;color:#000;font-weight:normal;left:1770.99px;transform-origin:0 50%;transform:scaleX(1.0061);"><span><span style="font-weight:bold">High drive</span><svg width="34" height="18" viewBox="0 0 34 18" style="vertical-align:1px"><path d="M6,9 L27,9 M19.5,1.6 L27.2,9 L19.5,16.4" stroke="#000" stroke-width="2.1" fill="none"/></svg>may pose</span></div>
<div class="r" style="left:1730.0px;top:2217.8px;width:10px;height:10px;border-radius:50%;background:#000"></div>
<div class="t" id="t157" style="top:2246.91px;font-size:32px;line-height:40px;color:#000;font-weight:normal;left:1772.01px;transform-origin:0 50%;transform:scaleX(0.9936);"><span>challenges for expatriate reliance</span></div>
<div class="t" id="t158" style="top:2289.61px;font-size:32px;line-height:40px;color:#000;font-weight:normal;left:1771.01px;transform-origin:0 50%;transform:scaleX(0.9970);"><span>but also localization opportunities</span></div>
<svg class="r" style="left:911.15px;top:2090.45px" width="44.50" height="44.50" viewBox="-22.25 -22.25 44.50 44.50"><circle cx="0" cy="0" r="21.25" fill="#E1251B"/></svg>
<svg class="r" style="left:1052.15px;top:2090.45px" width="44.50" height="44.50" viewBox="-22.25 -22.25 44.50 44.50"><circle cx="0" cy="0" r="19.75" fill="#fff" stroke="#E1251B" stroke-width="3.0"/><path d="M0,0 L0,-21.25 A21.25,21.25 0 1 1 -21.25,0 Z" fill="#E1251B"/></svg>
<svg class="r" style="left:1186.85px;top:2090.45px" width="44.50" height="44.50" viewBox="-22.25 -22.25 44.50 44.50"><circle cx="0" cy="0" r="19.75" fill="#fff" stroke="#E1251B" stroke-width="3.0"/><path d="M0,0 L0,-21.25 A21.25,21.25 0 1 1 -21.25,0 Z" fill="#E1251B"/></svg>
<svg class="r" style="left:1326.05px;top:2090.45px" width="44.50" height="44.50" viewBox="-22.25 -22.25 44.50 44.50"><circle cx="0" cy="0" r="19.75" fill="#fff" stroke="#E1251B" stroke-width="3.0"/><path d="M0,0 L0,-21.25 A21.25,21.25 0 1 1 -21.25,0 Z" fill="#E1251B"/></svg>
<svg class="r" style="left:1465.05px;top:2090.45px" width="44.50" height="44.50" viewBox="-22.25 -22.25 44.50 44.50"><circle cx="0" cy="0" r="19.75" fill="#fff" stroke="#E1251B" stroke-width="3.0"/><path d="M0,-21.25 A21.25,21.25 0 0 1 0,21.25 Z" fill="#E1251B"/></svg>
<svg class="r" style="left:1604.35px;top:2090.45px" width="44.50" height="44.50" viewBox="-22.25 -22.25 44.50 44.50"><circle cx="0" cy="0" r="19.75" fill="#fff" stroke="#E1251B" stroke-width="3.0"/><path d="M0,-21.25 A21.25,21.25 0 0 1 0,21.25 Z" fill="#E1251B"/></svg>
<svg class="r" style="left:911.15px;top:2257.95px" width="44.50" height="44.50" viewBox="-22.25 -22.25 44.50 44.50"><circle cx="0" cy="0" r="21.25" fill="#E1251B"/></svg>
<svg class="r" style="left:1052.15px;top:2257.95px" width="44.50" height="44.50" viewBox="-22.25 -22.25 44.50 44.50"><circle cx="0" cy="0" r="21.25" fill="#E1251B"/></svg>
<svg class="r" style="left:1186.85px;top:2257.95px" width="44.50" height="44.50" viewBox="-22.25 -22.25 44.50 44.50"><circle cx="0" cy="0" r="19.75" fill="#fff" stroke="#E1251B" stroke-width="3.0"/><path d="M0,-21.25 A21.25,21.25 0 0 1 0,21.25 Z" fill="#E1251B"/></svg>
<svg class="r" style="left:1326.05px;top:2257.95px" width="44.50" height="44.50" viewBox="-22.25 -22.25 44.50 44.50"><circle cx="0" cy="0" r="19.75" fill="#fff" stroke="#E1251B" stroke-width="3.0"/><path d="M0,-21.25 A21.25,21.25 0 0 1 0,21.25 Z" fill="#E1251B"/></svg>
<svg class="r" style="left:1465.05px;top:2257.95px" width="44.50" height="44.50" viewBox="-22.25 -22.25 44.50 44.50"><circle cx="0" cy="0" r="19.75" fill="#fff" stroke="#E1251B" stroke-width="3.0"/><path d="M0,-21.25 A21.25,21.25 0 0 1 0,21.25 Z" fill="#E1251B"/></svg>
<svg class="r" style="left:1604.35px;top:2257.95px" width="44.50" height="44.50" viewBox="-22.25 -22.25 44.50 44.50"><circle cx="0" cy="0" r="19.75" fill="#fff" stroke="#E1251B" stroke-width="3.0"/><path d="M0,-21.25 A21.25,21.25 0 0 1 0,21.25 Z" fill="#E1251B"/></svg>
<svg class="r" style="left:899.30px;top:111.40px" width="82.0" height="52.2" viewBox="0 0 82 52"><rect x="0" y="0" width="82" height="52" fill="#0A8C45"/><g stroke="#fff" stroke-width="1.3" fill="none" stroke-linecap="round" opacity="0.92"><path d="M22,25 q2,-3 4,-1 q2,2 3,-3 q1,-3 -1,-5 M23,19 q3,-4 6,-1 M25,22 q3,1 5,-2 M30,25 q3,-2 5,0 q2,2 4,-2 M31,18 l3,4 l3,-5 l3,5 l3,-6 M34,25 q4,-3 8,-1 M44,25 l2,-10 M47,25 l0,-11 M49,16 q2,3 1,6 q-1,3 2,3 M52,25 l0,-10 M54,15 q3,1 2,5 q-1,3 2,5 M57,25 l1,-11 M59,14 l0,12"/></g><path d="M27,37 L50,37" stroke="#fff" stroke-width="1.8" opacity="0.9"/><rect x="49.5" y="35" width="1.6" height="4" fill="#fff"/><rect x="51" y="36" width="4" height="2.6" fill="#fff"/><rect x="1" y="1" width="80" height="50" fill="none" stroke="#000" stroke-width="2.2"/></svg>
<svg class="r" style="left:1037.30px;top:111.40px" width="82.0" height="52.2" viewBox="0 0 82 52"><rect x="0" y="0" width="82" height="52" fill="#000"/><rect x="22" y="2" width="60" height="16" fill="#239B3E"/><rect x="22" y="18" width="60" height="16" fill="#fff"/><rect x="0" y="0" width="22" height="52" fill="#B80B24"/><rect x="1" y="1" width="80" height="50" fill="none" stroke="#000" stroke-width="2.2"/></svg>
<svg class="r" style="left:1175.40px;top:111.40px" width="82.0" height="52.2" viewBox="0 0 82 52"><rect x="0" y="0" width="82" height="52" fill="#B4001E"/><rect x="0" y="2" width="82" height="16" fill="#239B43"/><rect x="0" y="18" width="82" height="16" fill="#F7F7F7"/><path d="M0,0 L22,18 L22,34 L0,52 Z" fill="#000"/><rect x="1" y="1" width="80" height="50" fill="none" stroke="#000" stroke-width="2.2"/></svg>
<svg class="r" style="left:1313.50px;top:111.40px" width="82.0" height="52.2" viewBox="0 0 82 52"><rect x="0" y="0" width="82" height="52" fill="#8A1538"/><path d="M0,0 L24,0 L24,2 L30,4.67 L24,7.33 L30,10.00 L24,12.67 L30,15.33 L24,18.00 L30,20.67 L24,23.33 L30,26.00 L24,28.67 L30,31.33 L24,34.00 L30,36.67 L24,39.33 L30,42.00 L24,44.67 L30,47.33 L24,50.00 L24,52 L0,52 Z" fill="#fff"/><rect x="1" y="1" width="80" height="50" fill="none" stroke="#000" stroke-width="2.2"/></svg>
<svg class="r" style="left:1451.70px;top:111.40px" width="82.0" height="52.2" viewBox="0 0 82 52"><rect x="0" y="0" width="82" height="52" fill="#DE4E2D"/><rect x="28" y="2" width="54" height="16.2" fill="#fff"/><rect x="28" y="34" width="54" height="18" fill="#1F9B5B"/><path d="M10.4,4.3 L14.8,10.7 L20.3,4.3 M14.8,7.5 L14.8,11 M10.4,10.9 L19.3,10.9 M14.8,11.5 L8.7,18.8 M14.8,11.5 L21.2,18.8" stroke="#F2C4C0" stroke-width="1.4" fill="none"/><rect x="1" y="1" width="80" height="50" fill="none" stroke="#000" stroke-width="2.2"/></svg>
<svg class="r" style="left:1589.80px;top:111.40px" width="82.0" height="52.2" viewBox="0 0 82 52"><rect x="0" y="0" width="82" height="52" fill="#E8141F"/><path d="M0,0 L23,0 L23,2 L33,6.80 L23,11.60 L33,16.40 L23,21.20 L33,26.00 L23,30.80 L33,35.60 L23,40.40 L33,45.20 L23,50.00 L23,52 L0,52 Z" fill="#F7F7F7"/><rect x="1" y="1" width="80" height="50" fill="none" stroke="#000" stroke-width="2.2"/></svg>
<div class="t" id="t159" style="top:2417.41px;font-size:32px;line-height:40px;color:#000;font-weight:bold;font-style:italic;left:893.50px;transform-origin:0 50%;transform:scaleX(1.0024);"><span>Favorability for investment</span></div>
<div class="r" style="left:876.60px;top:2462.00px;width:428.40px;height:1.50px;background:#808080;"></div>
<svg class="r" style="left:1300px;top:2450px" width="26" height="26" viewBox="0 0 26 26"><path d="M2.7,1.8 L23,12.8 L2.7,23.9 Z" fill="#000"/></svg>
<div class="r" style="left:895.40px;top:2480.30px;width:69.00px;height:47.70px;background:#EAF0EA;box-sizing:border-box;border:1.6px solid #8C8C8C;"></div>
<div class="r" style="left:964.40px;top:2480.30px;width:69.00px;height:47.70px;background:#DAE3D8;box-sizing:border-box;border:1.6px solid #8C8C8C;border-left:none;"></div>
<div class="r" style="left:1033.40px;top:2480.30px;width:69.00px;height:47.70px;background:#C6D5C3;box-sizing:border-box;border:1.6px solid #8C8C8C;border-left:none;"></div>
<div class="r" style="left:1102.40px;top:2480.30px;width:69.00px;height:47.70px;background:#A1B99C;box-sizing:border-box;border:1.6px solid #8C8C8C;border-left:none;"></div>
<div class="r" style="left:1171.40px;top:2480.30px;width:69.00px;height:47.70px;background:#71966B;box-sizing:border-box;border:1.6px solid #8C8C8C;border-left:none;"></div>
<div class="r" style="left:1240.40px;top:2480.30px;width:69.00px;height:47.70px;background:#4B6548;box-sizing:border-box;border:1.6px solid #8C8C8C;border-left:none;"></div>
<div class="t" id="t160" style="top:2485.16px;font-size:33px;line-height:41px;color:#000;font-weight:bold;font-style:italic;left:816.68px;transform-origin:0 50%;transform:scaleX(0.9164);"><span>Low</span></div>
<div class="t" id="t161" style="top:2485.16px;font-size:33px;line-height:41px;color:#000;font-weight:bold;font-style:italic;left:1333.01px;transform-origin:0 50%;transform:scaleX(0.9859);"><span>High</span></div>
<div class="t" id="t162" style="top:2400.91px;font-size:32px;line-height:40px;color:#000;font-weight:bold;font-style:italic;left:1769.48px;transform-origin:0 50%;transform:scaleX(1.0210);"><span>Relative performance</span></div>
<div class="r" style="left:1761.70px;top:2464.50px;width:358.30px;height:1.50px;background:#222;"></div>
<svg class="r" style="left:2117px;top:2455px" width="22" height="22" viewBox="0 0 22 22"><path d="M1.9,2 L20,10.2 L1.9,19 Z" fill="#000"/></svg>
<div class="t" id="t163" style="top:2495.46px;font-size:33px;line-height:41px;color:#000;font-weight:bold;font-style:italic;left:1694.06px;transform-origin:0 50%;transform:scaleX(0.9403);"><span>Low</span></div>
<div class="t" id="t164" style="top:2500.66px;font-size:33px;line-height:41px;color:#000;font-weight:bold;font-style:italic;left:2075.81px;transform-origin:0 50%;transform:scaleX(0.9887);"><span>High</span></div>
<svg class="r" style="left:1795.20px;top:2492.30px" width="47.00" height="47.00" viewBox="-23.50 -23.50 47.00 47.00"><circle cx="0" cy="0" r="20.90" fill="#fff" stroke="#E1251B" stroke-width="3.2"/><path d="M0,0 L0,-22.50 A22.50,22.50 0 0 1 22.50,0 Z" fill="#E1251B"/></svg>
<svg class="r" style="left:1866.30px;top:2492.30px" width="47.00" height="47.00" viewBox="-23.50 -23.50 47.00 47.00"><circle cx="0" cy="0" r="20.90" fill="#fff" stroke="#E1251B" stroke-width="3.2"/><path d="M0,-22.50 A22.50,22.50 0 0 1 0,22.50 Z" fill="#E1251B"/></svg>
<svg class="r" style="left:1934.25px;top:2492.95px" width="44.50" height="44.50" viewBox="-22.25 -22.25 44.50 44.50"><circle cx="0" cy="0" r="19.75" fill="#fff" stroke="#E1251B" stroke-width="3.0"/><path d="M0,0 L0,-21.25 A21.25,21.25 0 1 1 -21.25,0 Z" fill="#E1251B"/></svg>
<svg class="r" style="left:2002.10px;top:2492.70px" width="45.00" height="45.00" viewBox="-22.50 -22.50 45.00 45.00"><circle cx="0" cy="0" r="21.50" fill="#E1251B"/></svg>
</body></html>
